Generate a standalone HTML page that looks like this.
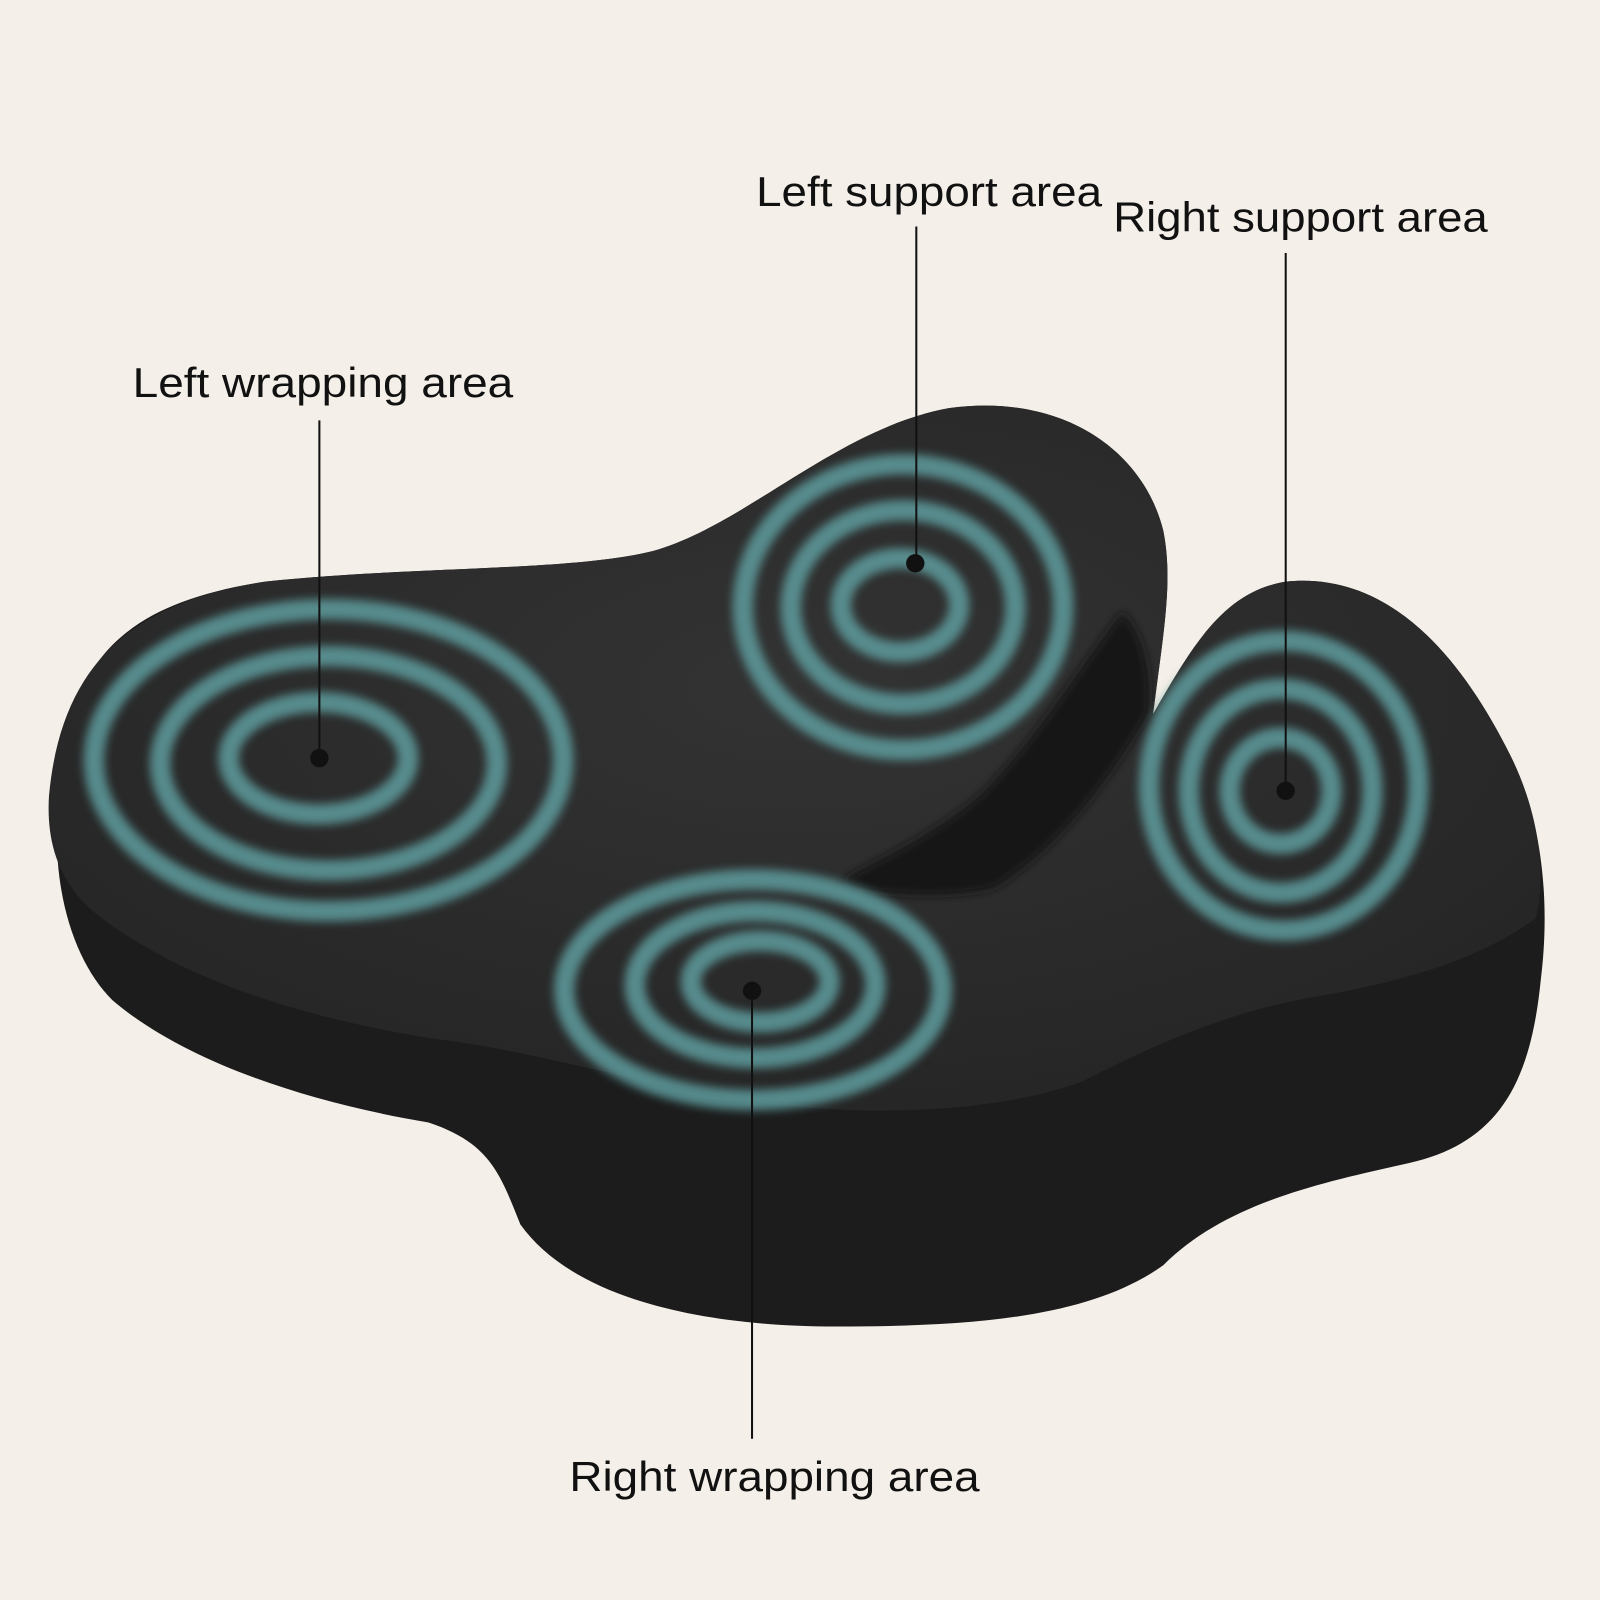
<!DOCTYPE html>
<html><head><meta charset="utf-8"><style>
html,body{margin:0;padding:0;background:#f4efe8;}
svg{display:block}
text{font-family:"Liberation Sans",sans-serif;font-size:41px;fill:#111;}
</style></head><body>
<svg width="1600" height="1600" viewBox="0 0 1600 1600" xmlns="http://www.w3.org/2000/svg">
<defs>
<filter id="bl" x="-20%" y="-20%" width="140%" height="140%"><feGaussianBlur stdDeviation="4.5"/></filter>
<radialGradient id="tg" cx="50%" cy="40%" r="60%"><stop offset="0" stop-color="#333"/><stop offset="1" stop-color="#262626"/></radialGradient>
</defs>
<rect width="1600" height="1600" fill="#f4efe8"/>
<g transform="scale(1.0204)">
<path d="M60,760 C70,640 130,590 260,570 C400,555 560,560 640,540 C730,515 820,420 930,400 C1040,385 1120,440 1140,520 C1150,570 1140,620 1130,700 C1170,630 1200,580 1260,570 C1360,560 1430,640 1480,740 C1510,800 1520,880 1510,960 C1500,1060 1470,1120 1380,1140 C1290,1160 1200,1180 1140,1240 C1070,1290 960,1300 820,1300 C680,1300 560,1270 510,1200 C490,1150 480,1120 420,1100 C300,1080 180,1040 110,980 C70,940 45,860 60,760 Z" fill="#1c1c1c"/>
<path d="M48,780 C60,650 130,590 260,570 C400,555 560,560 640,540 C730,515 820,420 930,400 C1040,385 1120,440 1140,520 C1150,570 1140,620 1130,700 C1170,630 1200,580 1260,570 C1360,560 1430,640 1480,740 C1510,800 1515,860 1505,900 C1450,940 1380,960 1300,975 C1200,990 1120,1030 1060,1060 C980,1090 850,1095 740,1080 C620,1060 520,1030 440,1020 C300,1000 180,960 100,900 C60,870 45,830 48,780 Z" fill="url(#tg)"/>
<path d="M1100,600 C1060,650 1020,720 960,780 C900,830 840,850 825,865 C860,880 940,880 975,870 C1040,830 1090,760 1125,700 C1130,660 1120,620 1100,600 Z" fill="#151515" filter="url(#bl)"/>
<g fill="none" stroke="#5f9c9e" stroke-width="20" filter="url(#bl)" opacity="0.85">
<ellipse cx="312" cy="743" rx="88" ry="55"/>
<ellipse cx="322" cy="748" rx="165" ry="105"/>
<ellipse cx="322" cy="745" rx="230" ry="148"/>
<ellipse cx="882" cy="593" rx="58" ry="46"/>
<ellipse cx="885" cy="595" rx="110" ry="95"/>
<ellipse cx="885" cy="595" rx="157" ry="140"/>
<ellipse cx="1255" cy="775" rx="50" ry="52"/>
<ellipse cx="1255" cy="775" rx="90" ry="100"/>
<ellipse cx="1258" cy="770" rx="132" ry="142"/>
<ellipse cx="745" cy="962" rx="68" ry="40"/>
<ellipse cx="740" cy="965" rx="118" ry="72"/>
<ellipse cx="738" cy="970" rx="185" ry="108"/>
</g>
<g stroke="#111" stroke-width="2">
<line x1="313" y1="412" x2="313" y2="743"/>
<line x1="898" y1="222" x2="898" y2="552"/>
<line x1="1260" y1="248" x2="1260" y2="775"/>
<line x1="737" y1="971" x2="737" y2="1410"/>
</g>
<g fill="#111">
<circle cx="313" cy="743" r="9"/>
<circle cx="897" cy="552" r="9"/>
<circle cx="1260" cy="775" r="9"/>
<circle cx="737" cy="971" r="9"/>
</g>
<text x="130" y="389" textLength="373" lengthAdjust="spacingAndGlyphs">Left wrapping area</text>
<text x="741" y="202" textLength="339" lengthAdjust="spacingAndGlyphs">Left support area</text>
<text x="1091" y="227" textLength="367" lengthAdjust="spacingAndGlyphs">Right support area</text>
<text x="558" y="1461" textLength="402" lengthAdjust="spacingAndGlyphs">Right wrapping area</text>
</g>
</svg>
</body></html>
